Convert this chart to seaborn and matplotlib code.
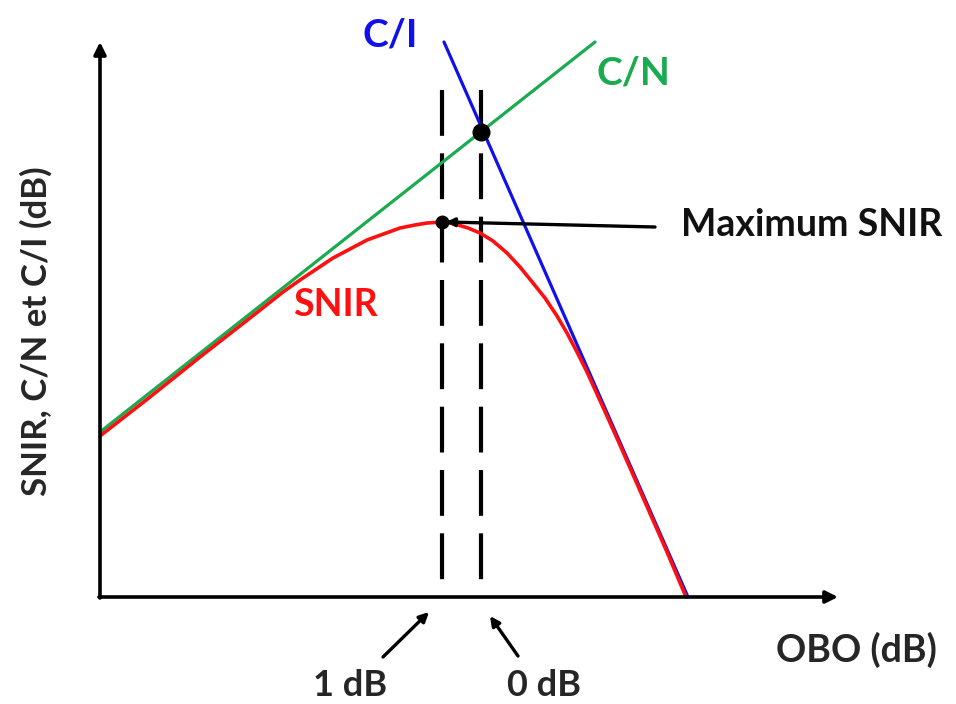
import seaborn as sns
import matplotlib.pyplot as plt
import pandas as pd
import numpy as np

# values, in image units (x to the right, y downward)
obo_cn = [100, 595]
cn = [432, 42]

obo_ci = [444, 688]
ci = [42, 597]

obo_snir = [100, 150, 200, 250, 283, 300, 333, 367, 400, 415, 427, 443,
            455, 468, 480, 493, 507, 520, 533, 545, 557, 567, 577, 587, 597,
            607, 620, 645, 667, 686]
snir = [436, 397, 357, 318, 292, 280, 258, 240, 228, 225, 223, 222,
        224, 228, 233, 241, 253, 267, 283, 298, 316, 333, 352, 372, 394,
        416, 445, 502, 552, 597]

obo_marks = [442, 481]          # 1 dB and 0 dB backoff
mark_labels = ["1 dB", "0 dB"]
dot_y = [222, 132]              # max SNIR, C/N = C/I crossing

sns.set_theme(style="white")
plt.rcParams['font.family'] = ['Lato', 'DejaVu Sans']
plt.rcParams['font.weight'] = 'bold'

fig = plt.figure(figsize=(9.56, 7.04), dpi=100)
ax = fig.add_axes([0, 0, 1, 1])
ax.set_xlim(0, 956)
ax.set_ylim(704, 0)
ax.axis('off')

# axes with arrow heads
arrow_kw = dict(arrowstyle='-|>', lw=2.6, color='black', mutation_scale=18,
                shrinkA=0, shrinkB=0)
ax.annotate('', xy=(838, 597), xytext=(99, 597), arrowprops=arrow_kw)
ax.annotate('', xy=(100, 42), xytext=(100, 598), arrowprops=arrow_kw)

# dashed verticals
for xm in obo_marks:
    ax.plot([xm, xm], [90, 597], color='black', lw=3, dashes=(11, 4.2))

sns.lineplot(x=obo_cn, y=cn, color='#1aaa50', lw=2.3, ax=ax, sort=False)
sns.lineplot(x=obo_ci, y=ci, color='#1010ee', lw=2.3, ax=ax, sort=False)
sns.lineplot(x=obo_snir, y=snir, color='#ff1010', lw=2.6, ax=ax, sort=False)

ax.plot(obo_marks[0], dot_y[0], 'o', color='black', ms=9)
ax.plot(obo_marks[1], dot_y[1], 'o', color='black', ms=12)

# maximum SNIR pointer
ax.annotate('', xy=(446, 222), xytext=(655, 227),
            arrowprops=dict(arrowstyle='-|>', lw=2.4, color='black',
                            mutation_scale=12, shrinkA=0, shrinkB=0))
ax.text(681, 225, "Maximum SNIR", fontsize=27, fontweight='bold',
        ha='left', va='center', color='#111111')

# bottom pointers
ax.annotate('', xy=(429, 612), xytext=(383, 657),
            arrowprops=dict(arrowstyle='-|>', lw=2.4, color='black',
                            mutation_scale=14, shrinkA=0, shrinkB=0))
ax.annotate('', xy=(490, 616), xytext=(518, 656),
            arrowprops=dict(arrowstyle='-|>', lw=2.4, color='black',
                            mutation_scale=14, shrinkA=0, shrinkB=0))
ax.text(350, 685, mark_labels[0], fontsize=26, fontweight='bold', ha='center', va='center')
ax.text(544, 685, mark_labels[1], fontsize=26, fontweight='bold', ha='center', va='center')

ax.text(856, 650, "OBO (dB)", fontsize=27, fontweight='bold', ha='center', va='center')
ax.text(36, 331, "SNIR, C/N et C/I (dB)", fontsize=25, fontweight='bold',
        ha='center', va='center', rotation=90)

ax.text(390, 35, "C/I", fontsize=28, fontweight='bold', color='#1010ee', ha='center', va='center')
ax.text(633, 73, "C/N", fontsize=28, fontweight='bold', color='#1aaa50', ha='center', va='center')
ax.text(335, 305, "SNIR", fontsize=27, fontweight='bold', color='#ff1010', ha='center', va='center')

fig.savefig('out.png', dpi=100)
